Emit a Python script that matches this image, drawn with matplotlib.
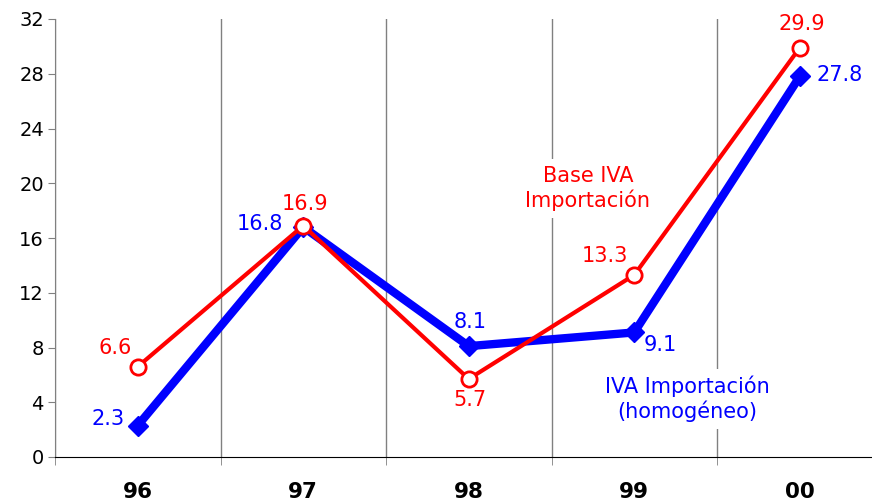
import numpy as np
import matplotlib
matplotlib.use('Agg')
import matplotlib.pyplot as plt

# datos
years = ['96', '97', '98', '99', '00']
base_iva = [6.6, 16.9, 5.7, 13.3, 29.9]
iva_homog = [2.3, 16.8, 8.1, 9.1, 27.8]

# desplazamientos de las etiquetas (pixeles)
red_off = [(-23, 19), (2, 22), (1, -21), (-29, 19), (2, 24)]
blue_off = [(-30, 7), (-43, 3), (1, 24), (26, -13), (40, 1)]

plt.rcParams['font.family'] = 'DejaVu Sans'

fig = plt.figure(figsize=(8.72, 4.99), dpi=100)
ax = fig.add_axes([55 / 872, 42 / 499, 827.5 / 872, 438 / 499])

x = np.arange(len(years))
ax.plot(x, base_iva, color='#ff0000', lw=3, marker='o', ms=11,
        mfc='white', mec='#ff0000', mew=2, zorder=5)
ax.plot(x, iva_homog, color='#0000ff', lw=6, marker='D', ms=10,
        mfc='#0000ff', mec='#0000ff', zorder=4)

for i in range(len(years)):
    ax.annotate(f'{base_iva[i]:.1f}', (x[i], base_iva[i]), xytext=red_off[i],
                textcoords='offset pixels', ha='center', va='center',
                color='#ff0000', fontsize=15, zorder=6)
    ax.annotate(f'{iva_homog[i]:.1f}', (x[i], iva_homog[i]), xytext=blue_off[i],
                textcoords='offset pixels', ha='center', va='center',
                color='#0000ff', fontsize=15, zorder=6)

ax.text(2.72, 19.6, 'Base IVA\nImportación', color='#ff0000', fontsize=15,
        ha='center', va='center', linespacing=1.2, zorder=3,
        bbox=dict(facecolor='white', edgecolor='none', pad=5))
ax.text(3.32, 4.24, 'IVA Importación\n(homogéneo)', color='#0000ff', fontsize=15,
        ha='center', va='center', linespacing=1.2, zorder=3,
        bbox=dict(facecolor='white', edgecolor='none', pad=5))

ax.set_xlim(-0.5, 4.5)
ax.set_ylim(0, 32)
ax.set_yticks(np.arange(0, 33, 4))
ax.set_xticks(x)
ax.set_xticklabels(years, fontweight='bold')
ax.set_xticks(np.arange(-0.5, 5, 1), minor=True)
ax.grid(True, which='minor', axis='x', color='#808080', lw=1)
ax.tick_params(axis='x', which='major', length=0, pad=18, labelsize=15.5)
ax.tick_params(axis='x', which='minor', length=6, color='#808080', direction='out')
ax.tick_params(axis='y', length=5, color='#808080', labelsize=14, pad=3)

for s in ['top', 'right']:
    ax.spines[s].set_visible(False)
ax.spines['left'].set_color('#808080')
ax.spines['bottom'].set_color('black')

fig.savefig('out.png', dpi=100)
